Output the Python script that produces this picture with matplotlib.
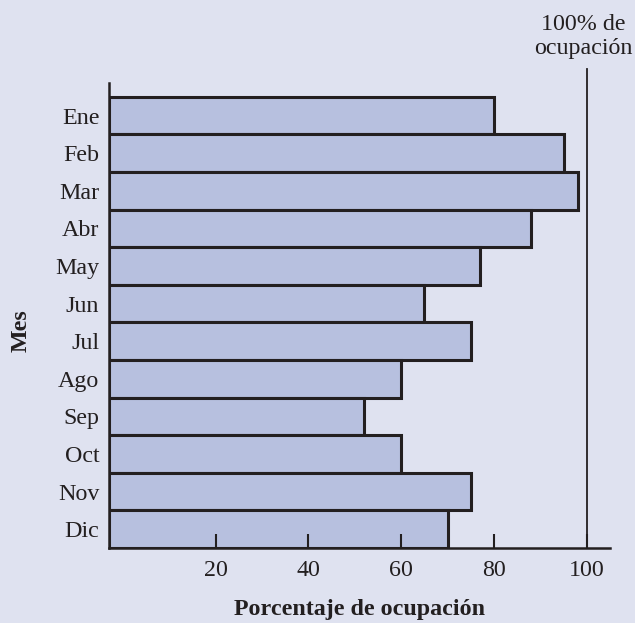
import matplotlib.pyplot as plt
import numpy as np

meses = ['Ene', 'Feb', 'Mar', 'Abr', 'May', 'Jun', 'Jul', 'Ago', 'Sep', 'Oct', 'Nov', 'Dic']
ocupacion = [80, 95, 98, 88, 77, 65, 75, 60, 52, 60, 75, 70]
xticks = [20, 40, 60, 80, 100]

bg = '#dfe2f0'
fill = '#b7c0df'
dark = '#231f20'
fs = 17.3

plt.rcParams['font.family'] = ['Liberation Serif', 'DejaVu Serif']

fig = plt.figure(figsize=(6.35, 6.23), dpi=100, facecolor=bg)
ax = fig.add_axes([0.1717, 0.1204, 0.7889, 0.7464])
ax.set_facecolor(bg)

xmin, xmax = -3, 105
y = np.arange(len(meses))
# bars start at the y axis line
ax.barh(y, np.array(ocupacion) - xmin, left=xmin, height=1.0, color=fill,
        edgecolor=dark, linewidth=2.2, zorder=2)

ax.set_ylim(11.5, -0.87)
ax.set_xlim(xmin, xmax)
ax.set_axisbelow(False)

# linea de 100% de ocupacion
ax.axvline(100, ymin=0, ymax=1.03, color=dark, linewidth=1.3, clip_on=False, zorder=1)
ax.text(99.3, -1.5, '100% de\nocupación', ha='center', va='bottom', fontsize=fs,
        color=dark, linespacing=1.2, clip_on=False)

ax.set_yticks(y)
ax.set_yticklabels(meses, fontsize=fs, color=dark)
ax.tick_params(axis='y', length=0, pad=7)
ax.set_xticks(xticks)
ax.set_xticklabels([str(v) for v in xticks], fontsize=fs, color=dark)
ax.tick_params(axis='x', direction='in', length=10, width=1.5, color=dark, pad=9)

for s in ['top', 'right']:
    ax.spines[s].set_visible(False)
for s in ['left', 'bottom']:
    ax.spines[s].set_color(dark)
    ax.spines[s].set_linewidth(1.8)
    ax.spines[s].set_zorder(3)

fig.text(0.566, 0.005, 'Porcentaje de ocupación', ha='center', va='bottom',
         fontsize=fs, fontweight='bold', color=dark)
fig.text(0.033, 0.47, 'Mes', ha='center', va='center', rotation=90,
         fontsize=fs, fontweight='bold', color=dark)

fig.savefig('out.png', dpi=100, facecolor=bg)
